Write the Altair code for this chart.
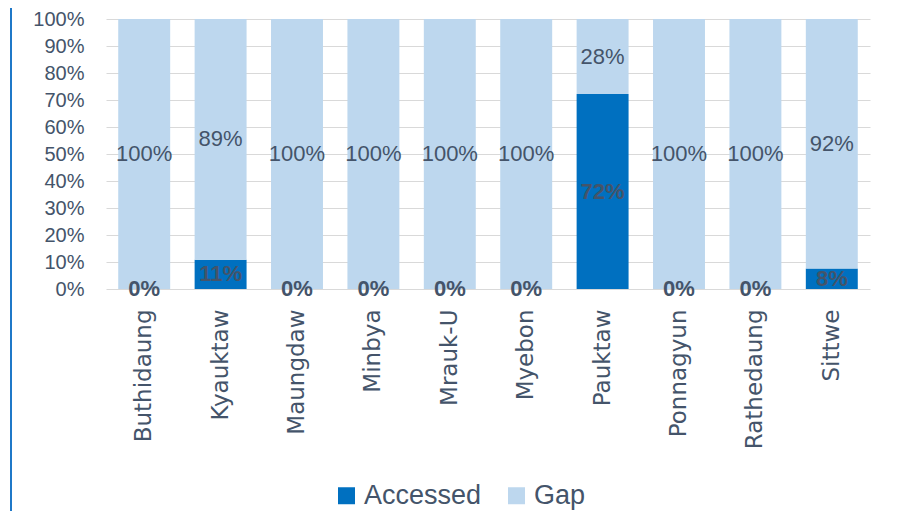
import altair as alt
import pandas as pd

districts = ["Buthidaung", "Kyauktaw", "Maungdaw", "Minbya", "Mrauk-U",
             "Myebon", "Pauktaw", "Ponnagyun", "Rathedaung", "Sittwe"]
accessed = [0.0, 0.108, 0.0, 0.0, 0.0, 0.0, 0.722, 0.0, 0.0, 0.076]
gap = [1 - a for a in accessed]
series = ["Accessed", "Gap"]
colors = ["#0070C0", "#BDD7EE"]
y_ticks = [0.0, 0.1, 0.2, 0.3, 0.4, 0.5, 0.6, 0.7, 0.8, 0.9, 1.0]

rows = []
for d, a, g in zip(districts, accessed, gap):
    rows.append({"district": d, "series": "Accessed", "value": a,
                 "start": 0.0, "end": a, "mid": a / 2})
    rows.append({"district": d, "series": "Gap", "value": g,
                 "start": a, "end": a + g, "mid": a + g / 2})
df = pd.DataFrame(rows)

TXT = "#44546A"

x_enc = alt.X("district:N", sort=districts, title=None,
              scale=alt.Scale(paddingInner=0.32, paddingOuter=0.16),
              axis=alt.Axis(labelAngle=270, labelFont="DejaVu Sans", labelFontSize=23,
                            labelColor=TXT, labelPadding=20, ticks=False, domain=False,
                            grid=False, labelOverlap=False))

y_axis = alt.Axis(values=y_ticks, format=".0%",
                  labelFont="Liberation Sans", labelFontSize=20,
                  labelColor=TXT, labelPadding=22, ticks=False, domain=False,
                  labelOverlap=False, labelBound=False, labelFlush=False,
                  grid=True, gridColor="#D9D9D9", gridWidth=1)
y_scale = alt.Scale(domain=[0, 1])

bars = alt.Chart(df).mark_bar().encode(
    x=x_enc,
    y=alt.Y("start:Q", title=None, scale=y_scale, axis=y_axis),
    y2="end:Q",
    color=alt.Color("series:N", scale=alt.Scale(domain=series, range=colors),
                    legend=alt.Legend(title=None, orient="none", direction="horizontal",
                                      legendX=227, legendY=463,
                                      labelFont="Liberation Sans", labelFontSize=27,
                                      labelColor=TXT, symbolType="square",
                                      symbolSize=289, symbolStrokeWidth=0,
                                      labelOffset=4, columnPadding=21)),
)

gap_text = alt.Chart(df).transform_filter(alt.datum.series == "Gap").mark_text(
    font="Liberation Sans", fontSize=22, color=TXT, baseline="middle"
).encode(x=x_enc, y=alt.Y("mid:Q", title=None, scale=y_scale, axis=y_axis),
         text=alt.Text("value:Q", format=".0%"))

acc_text = alt.Chart(df).transform_filter(alt.datum.series == "Accessed").mark_text(
    font="Liberation Sans", fontSize=22, fontWeight="bold", color=TXT, baseline="middle"
).encode(x=x_enc, y=alt.Y("mid:Q", title=None, scale=y_scale, axis=y_axis),
         text=alt.Text("value:Q", format=".0%"))

border = alt.Chart(df).mark_rule(color="#1F78C8", strokeWidth=2).encode(
    x=alt.value(-95), y=alt.value(-11), y2=alt.value(493))

chart = alt.layer(bars, gap_text, acc_text, border).properties(
    width=764, height=270,
    autosize=alt.AutoSizeParams(type="none"),
    padding={"left": 98, "top": 11, "right": 20, "bottom": 222},
).configure_view(stroke=None)

chart.save("out.html", embed_options={"renderer": "svg", "actions": False})
